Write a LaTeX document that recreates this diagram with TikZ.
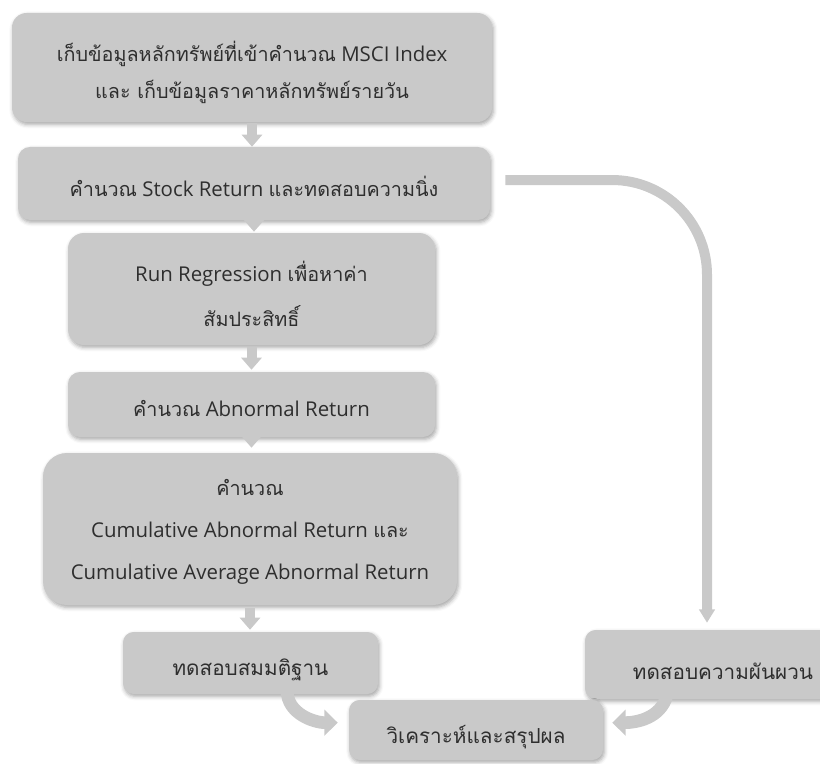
\documentclass[tikz,border=0pt]{standalone}
\usepackage{fontspec}
\setmainfont{Open Sans}
\newfontfamily\thaifont[Script=Thai,Scale=0.97]{Loma}
\usetikzlibrary{arrows.meta,shadows.blur}
\definecolor{boxgrey}{HTML}{C9C9C9}
\definecolor{ink}{HTML}{2E2E2E}
\newcommand\tha[1]{{\thaifont #1}}

\tikzset{
  stepbox/.style={fill=boxgrey, inner sep=0pt,
    blur shadow={shadow xshift=1pt, shadow yshift=-1.8pt,
      shadow blur radius=3pt, shadow opacity=35}},
  steptext/.style={text=ink, align=center, inner sep=0pt},
  downarrow/.style={draw=boxgrey, line width=7.5pt,
    -{Triangle[width=15pt,length=9pt]}},
  railarrow/.style={draw=boxgrey, line width=7.5pt,
    -{Triangle[width=11.5pt,length=10pt]}},
  bendarrow/.style={draw=boxgrey, line width=9.5pt,
    -{Triangle[width=19pt,length=10pt]}},
  mainfont/.style={font=\fontsize{15.3}{27.5}\selectfont},
  lowfont/.style={font=\fontsize{16}{20}\selectfont},
}

\begin{document}
\begin{tikzpicture}[x=0.75pt,y=-0.75pt]
\useasboundingbox (0,0) rectangle (820,763);
\clip (0,0) rectangle (820,763);

% boxes of the left column
\node[stepbox, rounded corners=11pt, minimum width=360pt, minimum height=81.75pt] (b1) at (252,67.5) {};
\node[stepbox, rounded corners=9pt, minimum width=354pt, minimum height=54.75pt] (b2) at (254,183.5) {};
\node[stepbox, rounded corners=12pt, minimum width=275.25pt, minimum height=84pt] (b3) at (251.5,289) {};
\node[stepbox, rounded corners=9pt, minimum width=275.25pt, minimum height=48.75pt] (b4) at (251.5,404.5) {};
\node[stepbox, rounded corners=18pt, minimum width=310.5pt, minimum height=114pt] (b5) at (250,529) {};
\node[stepbox, rounded corners=8pt, minimum width=191.25pt, minimum height=46.5pt] (b6) at (250.5,663) {};

% right branch and final step
\node[stepbox, rounded corners=8pt, minimum width=207pt, minimum height=51.75pt] (b7) at (723,664.5) {};
\node[stepbox, rounded corners=8pt, minimum width=190.5pt, minimum height=45pt] (b8) at (476,730) {};

% labels
\node[steptext, mainfont] (t1) at ([yshift=-3.5pt]b1.center)
  {\tha{เก็บข้อมูลหลักทรัพย์ที่เข้าคำนวณ} MSCI Index\\
   \tha{และ เก็บข้อมูลราคาหลักทรัพย์รายวัน}};
\node[steptext, mainfont] (t2) at ([yshift=-2pt]b2.center)
  {\tha{คำนวณ} Stock Return \tha{และทดสอบความนิ่ง}};
\node[steptext, font=\fontsize{15.3}{33.5}\selectfont] (t3) at ([yshift=-3.5pt]b3.center)
  {Run Regression \tha{เพื่อหาค่า}\\ \tha{สัมประสิทธิ์}};
\node[steptext, mainfont] (t4) at ([yshift=-3pt]b4.center)
  {\tha{คำนวณ} Abnormal Return};
\node[steptext, font=\fontsize{15.3}{31.5}\selectfont] (t5) at ([yshift=-2.5pt]b5.center)
  {\tha{คำนวณ}\\ Cumulative Abnormal Return \tha{และ}\\
   Cumulative Average Abnormal Return};
\node[steptext, lowfont] (t6) at ([yshift=-5.5pt]b6.center) {\tha{ทดสอบสมมติฐาน}};
\node[steptext, lowfont] (t7) at ([yshift=-5pt]b7.center) {\tha{ทดสอบความผันผวน}};
\node[steptext, lowfont] (t8) at ([yshift=-5.5pt]b8.center) {\tha{วิเคราะห์และสรุปผล}};

% short arrows down the left column
\draw[downarrow] ([yshift=-0.5pt]b1.south) -- (b1.south |- b2.north);
\draw[downarrow] ([yshift=7.5pt]b2.south) -- ([yshift=0.75pt]b2.south |- b3.north);
\draw[downarrow] ([yshift=-1pt]b3.south) -- ([yshift=1.5pt]b3.south |- b4.north);
\draw[downarrow] ([yshift=5pt]b4.south) -- ([yshift=3.75pt]b4.south |- b5.north);
\draw[downarrow] ([yshift=-2pt]b5.south) -- ([yshift=1.5pt]b5.south |- b6.north);

% long connector to the volatility test
\coordinate (rail) at (707,0);
\draw[railarrow, rounded corners=71pt]
  ([xshift=11.25pt,yshift=2.6pt]b2.east) -| ([yshift=5.25pt]b7.north -| rail);

% bent arrows into the conclusion
\draw[bendarrow] ([xshift=27.4pt,yshift=3pt]b6.south)
  to[out=-90,in=180] ([xshift=-8.25pt,yshift=5.5pt]b8.west);
\draw[bendarrow] ([xshift=-42pt,yshift=3pt]b7.south)
  to[out=-105,in=0] ([xshift=6.75pt,yshift=5.5pt]b8.east);
\end{tikzpicture}
\end{document}
